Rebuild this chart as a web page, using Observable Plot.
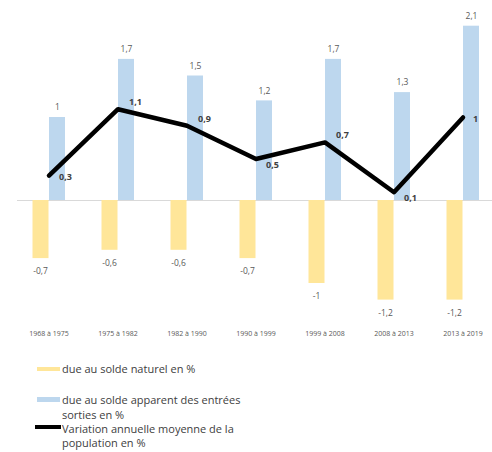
<!DOCTYPE html>
<html>
<head>
<meta charset="utf-8">
<script src="https://cdn.jsdelivr.net/npm/d3@7"></script>
<script src="https://cdn.jsdelivr.net/npm/@observablehq/plot@0.6"></script>
<style>
  body { margin: 0; background: #fff; font-family: "Open Sans", "Liberation Sans", sans-serif; }
  #chart { width: 492px; }
  .legend { position: relative; height: 100px; font-size: 11px; color: #404040; }
  .sw { position: absolute; }
  .txt { position: absolute; left: 62px; white-space: nowrap; }
</style>
</head>
<body>
<div id="chart"></div>
<script>
const periods = ["1968 à 1975", "1975 à 1982", "1982 à 1990", "1990 à 1999", "1999 à 2008", "2008 à 2013", "2013 à 2019"];
const soldeNaturel = [-0.7, -0.6, -0.6, -0.7, -1, -1.2, -1.2];
const soldeMigratoire = [1, 1.7, 1.5, 1.2, 1.7, 1.3, 2.1];
const variation = [0.3, 1.1, 0.9, 0.5, 0.7, 0.1, 1];

const seriesNames = ["due au solde naturel en %", "due au solde apparent des entrées sorties en %", "Variation annuelle moyenne de la population en %"];
const colors = ["#FFE699", "#BDD7EE", "#000000"];

const fmt = v => String(v).replace(".", ",");
const nat = periods.map((p, i) => ({p, v: soldeNaturel[i]}));
const mig = periods.map((p, i) => ({p, v: soldeMigratoire[i]}));
// label side for the line: above at local peaks, below at local dips
const vari = periods.map((p, i) => {
  const prev = variation[i - 1], next = variation[i + 1];
  const v = variation[i];
  let side = 0;
  if (prev !== undefined && next !== undefined) {
    if (v >= prev && v >= next) side = -1;
    else if (v <= prev && v <= next) side = 1;
    else side = -1;
  } else if (prev === undefined) side = 0.3;
  return {p, v, side};
});

const plot = Plot.plot({
  width: 492,
  height: 352,
  marginLeft: 17,
  marginRight: 0,
  marginTop: 0,
  marginBottom: 21,
  style: {fontFamily: "'Open Sans', 'Liberation Sans', sans-serif", background: "white"},
  x: {type: "band", domain: periods, range: [13.5, 496.5], padding: 0, label: null},
  y: {domain: [-2, 2.4], range: [366, 0.8], axis: null},
  marks: [
    Plot.ruleY([0], {stroke: "#d9d9d9", strokeWidth: 1}),
    Plot.barY(nat, {x: "p", y: "v", fill: colors[0], insetLeft: 18.5, insetRight: 34.5}),
    Plot.barY(mig, {x: "p", y: "v", fill: colors[1], insetLeft: 35, insetRight: 18}),
    Plot.text(nat, {x: "p", y: "v", text: d => fmt(d.v), dx: -8.5, dy: 13, fontSize: 8.5, fill: "#595959"}),
    Plot.text(mig, {x: "p", y: "v", text: d => fmt(d.v), dx: 8.5, dy: -10, fontSize: 8.5, fill: "#595959"}),
    Plot.line(vari, {x: "p", y: "v", stroke: colors[2], strokeWidth: 4.5, strokeLinejoin: "round"}),
    Plot.text(vari.filter(d => d.side < 0), {x: "p", y: "v", text: d => fmt(d.v), dx: 11, dy: -7, textAnchor: "start", fontSize: 9, fontWeight: "bold", fill: "#404040"}),
    Plot.text(vari.filter(d => d.side > 0.5), {x: "p", y: "v", text: d => fmt(d.v), dx: 10, dy: 6, textAnchor: "start", fontSize: 9, fontWeight: "bold", fill: "#404040"}),
    Plot.text(vari.filter(d => d.side >= 0 && d.side <= 0.5), {x: "p", y: "v", text: d => fmt(d.v), dx: 10, dy: 2, textAnchor: "start", fontSize: 9, fontWeight: "bold", fill: "#404040"}),
    Plot.axisX({anchor: "bottom", tickSize: 0, tickPadding: 0, fontSize: 7, color: "#595959", label: null})
  ]
});
document.getElementById("chart").appendChild(plot);

const legend = document.createElement("div");
legend.className = "legend";
legend.innerHTML = `
  <div class="sw" style="left:37px; top:15px; width:23px; height:4px; background:${colors[0]}"></div>
  <div class="txt" style="top:10px; line-height:14px">${seriesNames[0]}</div>
  <div class="sw" style="left:37px; top:45px; width:23px; height:5px; background:${colors[1]}"></div>
  <div class="txt" style="top:40px; line-height:15px">due au solde apparent des entrées<br>sorties en %</div>
  <div class="sw" style="left:35px; top:73px; width:26px; height:4px; background:${colors[2]}"></div>
  <div class="txt" style="top:70px; line-height:14px">Variation annuelle moyenne de la<br>population en %</div>
`;
document.getElementById("chart").appendChild(legend);
</script>
</body>
</html>
